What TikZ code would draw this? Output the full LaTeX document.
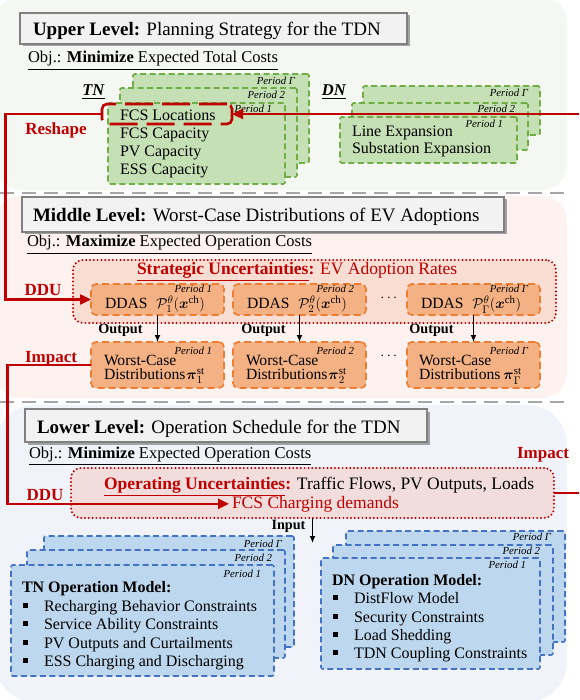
\documentclass[tikz,border=0pt]{standalone}
\usepackage{amsmath}
\usepackage{fontspec}
\setmainfont{Liberation Serif}
\usetikzlibrary{arrows.meta,shadows,fit}
\definecolor{upF}{RGB}{245,247,243}
\definecolor{midF}{RGB}{253,242,239}
\definecolor{lowF}{RGB}{240,244,250}
\definecolor{sepC}{RGB}{166,166,166}
\definecolor{ttF}{RGB}{242,242,242}
\definecolor{ttB}{RGB}{128,128,128}
\definecolor{grF}{RGB}{197,224,180}
\definecolor{grB}{RGB}{112,173,71}
\definecolor{orF}{RGB}{244,177,131}
\definecolor{orB}{RGB}{237,125,49}
\definecolor{blF}{RGB}{189,215,238}
\definecolor{blB}{RGB}{68,114,196}
\definecolor{rd}{RGB}{192,0,0}
\definecolor{strF}{RGB}{250,222,212}
\definecolor{opF}{RGB}{242,221,221}
\newcommand\ftitle{\fontsize{19pt}{21pt}\selectfont}
\newcommand\fobj{\fontsize{16.5pt}{19pt}\selectfont}
\newcommand\fbody{\fontsize{16pt}{18.5pt}\selectfont}
\newcommand\fddas{\fontsize{15.6pt}{17pt}\selectfont}
\newcommand\func{\fontsize{17.5pt}{20pt}\selectfont}
\newcommand\flab{\fontsize{17pt}{19pt}\selectfont\bfseries}
\newcommand\fper{\fontsize{10.8pt}{12pt}\selectfont\itshape}
\newcommand\fout{\fontsize{14.2pt}{16pt}\selectfont\bfseries}
\begin{document}
\begin{tikzpicture}[x=1pt,y=-1pt,
  every node/.style={inner sep=0pt, outer sep=0pt},
  sepline/.style={draw=sepC, line width=1.8pt, dash pattern=on 14pt off 8pt},
  titlebox/.style={draw=ttB, fill=ttF, line width=1.4pt, drop shadow={shadow xshift=2.5pt, shadow yshift=-2.5pt, fill=black!50, opacity=.7}},
  grbox/.style={draw=grB, fill=grF, line width=1.6pt, dash pattern=on 6pt off 3.5pt, rounded corners=1.5pt},
  orbox/.style={draw=orB, fill=orF, line width=1.6pt, dash pattern=on 7pt off 4pt, rounded corners=5pt},
  blbox/.style={draw=blB, fill=blF, line width=1.6pt, dash pattern=on 6pt off 3.5pt, rounded corners=2pt},
  uncbox/.style={draw=rd, line width=2.2pt, dash pattern=on 0pt off 3.8pt, line cap=round, rounded corners=10pt},
  hlbox/.style={draw=rd, line width=2.6pt, dash pattern=on 28pt off 9pt, rounded corners=5pt},
  redln/.style={draw=rd, line width=2.4pt},
  redarr/.style={redln, -{Triangle[length=11pt,width=10pt]}},
  blkarr/.style={draw=black, line width=1.4pt, -{Latex[length=7pt,width=6pt]}},
  per/.style={anchor=base east, font=\fper},
  txt/.style={anchor=base west},
  bul/.style={fill=black, minimum size=5pt},
  lab/.style={anchor=base, font=\flab, text=rd}
]
\useasboundingbox (0,0) rectangle (579,700);
% panels
\fill[upF, rounded corners=25pt] (-5,-3) rectangle (567,190);
\fill[midF, rounded corners=25pt] (-5,196) rectangle (567,398);
\fill[lowF, rounded corners=40pt] (-5,405) rectangle (567,702);
\draw[sepline] (0,193) -- (567,193);
\draw[sepline] (0,402) -- (567,402);

% ===== Upper level =====
\node[titlebox, fit={(20,13) (407,44)}] (t1box) {};
\node[txt, font=\ftitle] (t1) at (33,35.5) {\textbf{Upper Level:} Planning Strategy for the TDN};
\node[txt, font=\fobj] (o1) at (28,63) {\underline{Obj.: \textbf{Minimize} Expected Total Costs}};
\node[anchor=base, font=\fobj] (tn) at (93.5,96) {\underline{\textbf{\textit{TN}}}};
\node[anchor=base, font=\fobj] (dn) at (334,96) {\underline{\textbf{\textit{DN}}}};

\node[grbox, fit={(133,74) (309,163)}] (tnG) {};
\node[per] (ptnG) at (295,85) {Period Γ};
\node[grbox, fit={(120,88) (297,177)}] (tn2) {};
\node[per] (ptn2) at (285,99) {Period 2};
\node[grbox, fit={(108,103) (285,184)}] (tn1) {};
\node[per] (ptn1) at (272,113) {Period 1};
\node[txt, font=\fbody] (fcsloc) at (120,121) {FCS Locations};
\node[txt, font=\fbody] (fcscap) at (120,139) {FCS Capacity};
\node[txt, font=\fbody] (pvcap) at (120,157) {PV Capacity};
\node[txt, font=\fbody] (esscap) at (120,175) {ESS Capacity};

\node[grbox, fit={(363,86) (540,135)}] (dnG) {};
\node[per] (pdnG) at (528,97) {Period Γ};
\node[grbox, fit={(352,103) (528,150)}] (dn2) {};
\node[per] (pdn2) at (515,113) {Period 2};
\node[grbox, fit={(340,117) (517,163)}] (dn1) {};
\node[per] (pdn1) at (503,128) {Period 1};
\node[txt, font=\fbody] (lineexp) at (352,137) {Line Expansion};
\node[txt, font=\fbody] (subexp) at (352,153.5) {Substation Expansion};

\node[hlbox, fit={(102,104) (232,124)}] (fcshl) {};
\coordinate (rin) at (579,114);
\draw[redarr] (rin) -- (fcshl.east);
\node[lab] (reshape) at (56,135) {Reshape};

% ===== Middle level =====
\node[titlebox, fit={(22,197) (504,232)}] (t2box) {};
\node[txt, font=\ftitle] (t2) at (33,222) {\textbf{Middle Level:} Worst-Case Distributions of EV Adoptions};
\node[txt, font=\fobj] (o2) at (27,247) {\underline{Obj.: \textbf{Maximize} Expected Operation Costs}};

\node[uncbox, fill=strF, fit={(73,260) (556,323)}] (strunc) {};
\node[txt, font=\func, text=rd] (strtxt) at (137,274) {\textbf{\underline{Strategic Uncertainties}:} EV Adoption Rates};

\node[orbox, fit={(91,284) (224,315)}] (d1) {};
\node[orbox, fit={(233,284) (366,315)}] (d2) {};
\node[orbox, fit={(407,284) (540,315)}] (dG) {};
\node[txt, font=\fddas] (d1t) at (105,308.5) {DDAS\hspace{9pt}$\mathcal{P}^{\theta}_{1}(\boldsymbol{x}^{\mathrm{ch}})$};
\node[txt, font=\fddas] (d2t) at (247,308.5) {DDAS\hspace{9pt}$\mathcal{P}^{\theta}_{2}(\boldsymbol{x}^{\mathrm{ch}})$};
\node[txt, font=\fddas] (dGt) at (421,308.5) {DDAS\hspace{9pt}$\mathcal{P}^{\theta}_{\Gamma}(\boldsymbol{x}^{\mathrm{ch}})$};
\node[per] (pd1) at (212,292) {Period 1};
\node[per] (pd2) at (354,292) {Period 2};
\node[per] (pdG) at (528,292) {Period Γ};
\node[font=\fddas] (el1) at (390,298) {$\cdots$};

\node[orbox, fit={(91,342) (224,388)}] (w1) {};
\node[orbox, fit={(233,342) (366,388)}] (w2) {};
\node[orbox, fit={(407,342) (540,388)}] (wG) {};
\node[txt, font=\fddas] (w1a) at (104,365.5) {Worst-Case};
\node[txt, font=\fddas] (w1b) at (104,379.5) {Distributions\kern1pt$\boldsymbol{\pi}^{\mathrm{st}}_{1}$};
\node[txt, font=\fddas] (w2a) at (246,365.5) {Worst-Case};
\node[txt, font=\fddas] (w2b) at (246,379.5) {Distributions\kern1pt$\boldsymbol{\pi}^{\mathrm{st}}_{2}$};
\node[txt, font=\fddas] (wGa) at (419,365.5) {Worst-Case};
\node[txt, font=\fddas] (wGb) at (419,379.5) {Distributions\kern3pt$\boldsymbol{\pi}^{\mathrm{st}}_{\Gamma}$};
\node[per] (pw1) at (212,354) {Period 1};
\node[per] (pw2) at (354,354) {Period 2};
\node[per] (pwG) at (528,354) {Period Γ};
\node[font=\fddas] (el2) at (390,356) {$\cdots$};

\draw[blkarr] (d1.south) -- (w1.north);
\draw[blkarr] (d2.south) -- (w2.north);
\draw[blkarr] (dG.south) -- (wG.north);
\node[anchor=base, font=\fout] (out1) at (120.5,333) {Output};
\node[anchor=base, font=\fout] (out2) at (263.5,333) {Output};
\node[anchor=base, font=\fout] (outG) at (431.5,333) {Output};

\draw[redarr] (fcshl.west) -- ++(-96.5,0) |- (d1.west);
\node[lab] (ddu1) at (43,295) {DDU};
\node[lab] (imp1) at (51,362.5) {Impact};

% ===== Lower level =====
\node[titlebox, fit={(25,409) (427,442)}] (t3box) {};
\node[txt, font=\ftitle] (t3) at (37,433) {\textbf{Lower Level:} Operation Schedule for the TDN};
\node[txt, font=\fobj] (o3) at (29,458) {\underline{Obj.: \textbf{Minimize} Expected Operation Costs}};
\node[lab] (imp2) at (543,458) {Impact};

\node[uncbox, fill=opF, fit={(71,468) (554,518)}] (opunc) {};
\node[txt, font=\func] (opt1) at (104,489) {\textcolor{rd}{\textbf{\underline{Operating Uncertainties}:}} Traffic Flows, PV Outputs, Loads};
\node[txt, font=\func, text=rd] (fcsdem) at (232,508) {FCS Charging demands};

\draw[redarr, shorten >=3pt] (w1.west) -- ++(-83.5,0) |- (fcsdem.west);
\node[lab] (ddu2) at (45,500) {DDU};
\coordinate (rout) at (579,493);
\draw[redln] (opunc.east) -- (rout);

\node[anchor=base, font=\fout] (inp) at (288.5,529) {Input};
\coordinate (inend) at (312.5,543);
\draw[blkarr] (opunc.south) -- (inend);

% TN operation
\node[blbox, fit={(44,536) (294,647)}] (tnoG) {};
\node[per] (ptnoG) at (282,547) {Period Γ};
\node[blbox, fit={(27,550) (285,658)}] (tno2) {};
\node[per] (ptno2) at (272,561) {Period 2};
\node[blbox, fit={(11,565) (274,676)}] (tno1) {};
\node[per] (ptno1) at (261,577) {Period 1};
\node[txt, font=\fbody\bfseries] (tnh) at (22,592) {TN Operation Model:};
\node[bul] (tb1) at (25.8,605.5) {};
\node[bul] (tb2) at (25.8,623.5) {};
\node[bul] (tb3) at (25.8,642.5) {};
\node[bul] (tb4) at (25.8,660.5) {};
\node[txt, font=\fbody] (ti1) at (44,611) {Recharging Behavior Constraints};
\node[txt, font=\fbody] (ti2) at (44,629) {Service Ability Constraints};
\node[txt, font=\fbody] (ti3) at (44,648) {PV Outputs and Curtailments};
\node[txt, font=\fbody] (ti4) at (44,666) {ESS Charging and Discharging};

% DN operation
\node[blbox, fit={(346,531) (565,642)}] (dnoG) {};
\node[per] (pdnoG) at (551,540) {Period Γ};
\node[blbox, fit={(333,545) (553,655)}] (dno2) {};
\node[per] (pdno2) at (540,554) {Period 2};
\node[blbox, fit={(321,558) (540,669)}] (dno1) {};
\node[per] (pdno1) at (526,568) {Period 1};
\node[txt, font=\fbody\bfseries] (dnh) at (332,585) {DN Operation Model:};
\node[bul] (db1) at (335.5,597.5) {};
\node[bul] (db2) at (335.5,616.5) {};
\node[bul] (db3) at (335.5,634.5) {};
\node[bul] (db4) at (335.5,652.5) {};
\node[txt, font=\fbody] (di1) at (354,603) {DistFlow Model};
\node[txt, font=\fbody] (di2) at (354,622) {Security Constraints};
\node[txt, font=\fbody] (di3) at (354,640) {Load Shedding};
\node[txt, font=\fbody] (di4) at (354,658) {TDN Coupling Constraints};
\end{tikzpicture}
\end{document}
